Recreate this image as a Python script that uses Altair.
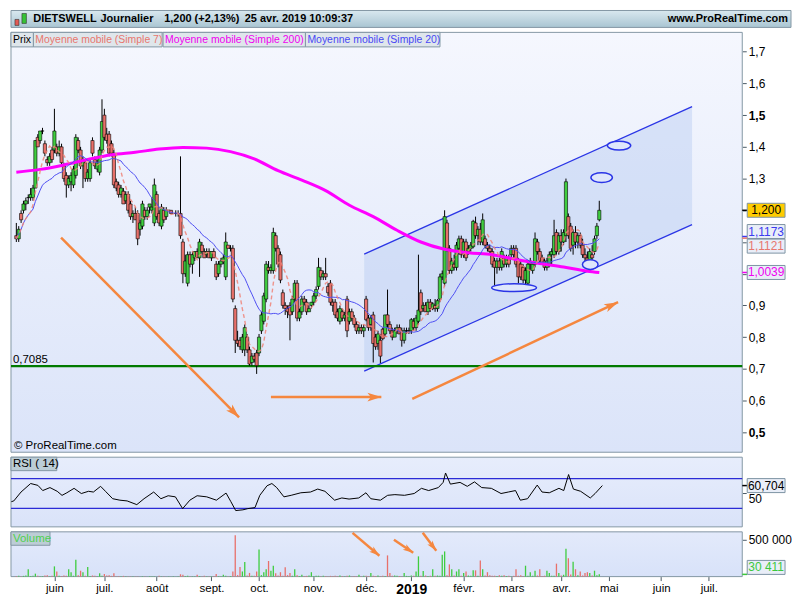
import altair as alt
import pandas as pd

# ---------------- data ----------------
OPEN = [
    1.12, 1.11, 1.19, 1.20, 1.22, 1.24, 1.24, 1.24, 1.27, 1.43,
    1.42, 1.45, 1.41, 1.36, 1.35, 1.39, 1.39, 1.40, 1.38, 1.40,
    1.34, 1.31, 1.28, 1.29, 1.28, 1.31, 1.42, 1.39, 1.34, 1.35,
    1.30, 1.30, 1.42, 1.36, 1.33, 1.32, 1.39, 1.50, 1.44, 1.44,
    1.41, 1.38, 1.29, 1.28, 1.25, 1.26, 1.23, 1.25, 1.22, 1.18,
    1.19, 1.19, 1.14, 1.15, 1.20, 1.18, 1.21, 1.20, 1.16, 1.25,
    1.19, 1.15, 1.20, 1.18, 1.20, 1.20, 1.19, 1.19, 1.19, 1.19,
    1.10, 1.00, 0.97, 1.06, 1.03, 1.05, 1.07, 1.05, 1.09, 1.07,
    1.06, 1.07, 1.05, 1.07, 1.03, 1.00, 1.03, 1.04, 0.99, 1.09,
    1.08, 1.08, 0.89, 0.79, 0.79, 0.76, 0.76, 0.80, 0.76, 0.72,
    0.74, 0.75, 0.75, 0.82, 0.85, 0.92, 1.02, 1.01, 1.01, 1.12,
    1.08, 1.06, 0.94, 0.90, 0.89, 0.90, 0.88, 0.92, 0.97, 0.86,
    0.88, 0.92, 0.91, 0.88, 0.90, 0.91, 0.93, 0.96, 1.01, 0.99,
    1.00, 0.96, 0.97, 0.91, 0.91, 0.88, 0.85, 0.88, 0.86, 0.92,
    0.85, 0.88, 0.86, 0.84, 0.82, 0.83, 0.82, 0.92, 0.86, 0.84,
    0.87, 0.80, 0.78, 0.79, 0.825, 0.81, 0.87, 0.84, 0.82, 0.80,
    0.82, 0.83, 0.82, 0.79, 0.82, 0.82, 0.82, 0.85, 0.83, 0.85,
    0.94, 0.89, 0.90, 0.88, 0.91, 0.89, 0.90, 0.89, 0.92, 0.99,
    0.97, 1.16, 1.08, 1.01, 1.03, 1.02, 1.08, 1.11, 1.06, 1.10,
    1.07, 1.08, 1.085, 1.16, 1.12, 1.14, 1.10, 1.11, 1.09, 1.08,
    1.07, 1.04, 1.02, 1.04, 1.02, 1.05, 1.03, 1.05, 1.06, 1.08,
    1.08, 1.04, 1.03, 1.02, 0.98, 0.97, 1.03, 1.01, 1.03, 1.10,
    1.07, 1.05, 1.04, 1.02, 1.03, 1.06, 1.06, 1.13, 1.07, 1.12,
    1.10, 1.12, 1.18, 1.15, 1.09, 1.13, 1.10, 1.12, 1.09, 1.06,
    1.05, 1.04, 1.06, 1.07, 1.12, 1.17,
]
HIGH = [
    1.16, 1.15, 1.20, 1.23, 1.24, 1.25, 1.27, 1.28, 1.42, 1.44,
    1.45, 1.46, 1.42, 1.37, 1.38, 1.40, 1.52, 1.41, 1.42, 1.41,
    1.35, 1.32, 1.31, 1.32, 1.34, 1.44, 1.43, 1.40, 1.37, 1.36,
    1.33, 1.36, 1.43, 1.37, 1.36, 1.40, 1.55, 1.52, 1.46, 1.45,
    1.42, 1.39, 1.30, 1.29, 1.28, 1.27, 1.26, 1.26, 1.23, 1.20,
    1.21, 1.20, 1.17, 1.23, 1.21, 1.21, 1.22, 1.24, 1.30, 1.26,
    1.20, 1.22, 1.21, 1.21, 1.20, 1.20, 1.19, 1.20, 1.20, 1.37,
    1.11, 1.06, 1.07, 1.07, 1.07, 1.07, 1.08, 1.11, 1.10, 1.08,
    1.08, 1.08, 1.07, 1.08, 1.04, 1.04, 1.05, 1.06, 1.13, 1.09,
    1.09, 1.09, 0.90, 0.82, 0.80, 0.81, 0.84, 0.81, 0.77, 0.75,
    0.75, 0.76, 0.81, 0.88, 0.94, 1.04, 1.04, 1.03, 1.145, 1.13,
    1.09, 1.07, 0.95, 0.91, 0.90, 0.91, 0.93, 0.98, 0.98, 0.89,
    0.93, 0.93, 0.92, 0.90, 0.91, 0.94, 0.96, 1.05, 1.02, 1.01,
    1.05, 0.97, 0.98, 0.92, 0.92, 0.89, 0.90, 0.89, 0.88, 0.93,
    0.89, 0.89, 0.87, 0.85, 0.84, 0.84, 0.84, 0.93, 0.87, 0.87,
    0.88, 0.81, 0.82, 0.81, 0.83, 0.87, 0.95, 0.85, 0.83, 0.83,
    0.84, 0.84, 0.83, 0.83, 0.83, 0.83, 0.86, 0.86, 0.87, 1.06,
    0.95, 0.91, 0.91, 0.92, 0.92, 0.91, 0.92, 0.92, 1.00, 1.01,
    1.20, 1.17, 1.09, 1.05, 1.06, 1.10, 1.12, 1.12, 1.11, 1.11,
    1.09, 1.10, 1.17, 1.18, 1.15, 1.16, 1.19, 1.12, 1.10, 1.09,
    1.08, 1.05, 1.05, 1.05, 1.08, 1.06, 1.06, 1.06, 1.09, 1.09,
    1.09, 1.05, 1.04, 1.03, 1.02, 1.04, 1.05, 1.04, 1.13, 1.11,
    1.08, 1.06, 1.05, 1.05, 1.07, 1.08, 1.17, 1.14, 1.13, 1.14,
    1.14, 1.30, 1.19, 1.16, 1.14, 1.15, 1.13, 1.13, 1.11, 1.08,
    1.07, 1.08, 1.09, 1.12, 1.16, 1.23,
]
LOW = [
    1.10, 1.10, 1.16, 1.19, 1.20, 1.22, 1.23, 1.23, 1.27, 1.40,
    1.41, 1.44, 1.37, 1.34, 1.34, 1.35, 1.38, 1.37, 1.37, 1.34,
    1.29, 1.24, 1.27, 1.26, 1.27, 1.30, 1.38, 1.33, 1.27, 1.29,
    1.29, 1.29, 1.37, 1.33, 1.32, 1.31, 1.38, 1.42, 1.41, 1.37,
    1.37, 1.27, 1.26, 1.24, 1.24, 1.22, 1.22, 1.19, 1.17, 1.16,
    1.17, 1.09, 1.12, 1.14, 1.17, 1.17, 1.19, 1.19, 1.15, 1.17,
    1.15, 1.14, 1.16, 1.17, 1.20, 1.19, 1.19, 1.18, 1.18, 1.11,
    0.97, 0.99, 0.96, 1.02, 1.00, 1.04, 1.05, 0.99, 1.06, 1.05,
    1.05, 1.05, 1.04, 1.05, 0.98, 0.99, 1.02, 1.03, 0.98, 1.08,
    1.07, 0.91, 0.75, 0.77, 0.76, 0.75, 0.74, 0.75, 0.71, 0.71,
    0.72, 0.684, 0.74, 0.81, 0.84, 0.91, 1.00, 1.00, 1.00, 1.07,
    1.02, 0.97, 0.89, 0.87, 0.86, 0.79, 0.87, 0.91, 0.85, 0.85,
    0.87, 0.90, 0.87, 0.88, 0.89, 0.90, 0.92, 0.95, 0.98, 0.98,
    0.98, 0.93, 0.90, 0.88, 0.86, 0.85, 0.84, 0.85, 0.85, 0.80,
    0.84, 0.85, 0.83, 0.81, 0.81, 0.81, 0.80, 0.85, 0.82, 0.82,
    0.72, 0.76, 0.76, 0.718, 0.79, 0.80, 0.83, 0.81, 0.79, 0.80,
    0.81, 0.81, 0.77, 0.78, 0.81, 0.81, 0.81, 0.82, 0.82, 0.84,
    0.87, 0.88, 0.88, 0.87, 0.88, 0.885, 0.88, 0.88, 0.91, 0.98,
    0.96, 1.07, 1.00, 1.00, 1.01, 1.01, 1.06, 1.05, 1.05, 1.04,
    1.06, 1.07, 1.08, 1.11, 1.09, 1.09, 1.09, 1.08, 1.07, 1.06,
    1.02, 0.95, 1.00, 1.01, 1.01, 1.02, 1.02, 1.02, 1.05, 1.05,
    1.02, 0.97, 0.98, 0.97, 0.95, 0.96, 1.01, 1.00, 1.02, 1.06,
    1.03, 1.03, 1.01, 1.01, 1.02, 1.03, 1.05, 1.06, 1.06, 1.07,
    1.09, 1.10, 1.11, 1.07, 1.06, 1.08, 1.08, 1.08, 1.05, 1.04,
    1.02, 1.03, 1.04, 1.06, 1.11, 1.165,
]
CLOSE = [
    1.11, 1.14, 1.17, 1.22, 1.23, 1.24, 1.25, 1.27, 1.42, 1.40,
    1.45, 1.45, 1.38, 1.35, 1.37, 1.36, 1.45, 1.38, 1.40, 1.35,
    1.30, 1.28, 1.30, 1.31, 1.33, 1.43, 1.39, 1.34, 1.36, 1.30,
    1.32, 1.35, 1.38, 1.34, 1.35, 1.39, 1.48, 1.43, 1.42, 1.38,
    1.38, 1.28, 1.27, 1.25, 1.27, 1.22, 1.25, 1.20, 1.18, 1.19,
    1.17, 1.11, 1.16, 1.22, 1.18, 1.20, 1.22, 1.21, 1.28, 1.18,
    1.16, 1.21, 1.17, 1.20, 1.20, 1.19, 1.19, 1.19, 1.19, 1.12,
    1.00, 1.04, 1.06, 1.03, 1.06, 1.07, 1.05, 1.10, 1.07, 1.05,
    1.07, 1.05, 1.07, 1.05, 0.99, 1.03, 1.04, 1.05, 1.10, 1.08,
    1.08, 0.92, 0.79, 0.78, 0.77, 0.80, 0.83, 0.76, 0.715, 0.74,
    0.73, 0.71, 0.80, 0.87, 0.93, 1.03, 1.01, 1.02, 1.13, 1.08,
    1.03, 0.98, 0.90, 0.89, 0.88, 0.87, 0.92, 0.97, 0.86, 0.88,
    0.92, 0.91, 0.88, 0.89, 0.91, 0.93, 0.95, 1.02, 0.99, 1.00,
    0.99, 0.94, 0.91, 0.90, 0.87, 0.86, 0.89, 0.86, 0.87, 0.82,
    0.88, 0.86, 0.84, 0.82, 0.83, 0.82, 0.83, 0.855, 0.83, 0.86,
    0.78, 0.77, 0.81, 0.74, 0.795, 0.87, 0.84, 0.82, 0.80, 0.82,
    0.83, 0.81, 0.79, 0.82, 0.82, 0.82, 0.855, 0.83, 0.86, 0.885,
    0.88, 0.90, 0.88, 0.91, 0.89, 0.905, 0.89, 0.915, 0.99, 1.00,
    1.18, 1.08, 1.01, 1.04, 1.02, 1.09, 1.11, 1.06, 1.10, 1.05,
    1.08, 1.09, 1.165, 1.12, 1.14, 1.10, 1.17, 1.09, 1.08, 1.07,
    1.03, 1.02, 1.04, 1.02, 1.07, 1.03, 1.05, 1.03, 1.08, 1.06,
    1.03, 0.99, 0.99, 0.98, 1.01, 1.03, 1.04, 1.03, 1.11, 1.07,
    1.04, 1.03, 1.02, 1.04, 1.06, 1.07, 1.12, 1.07, 1.12, 1.10,
    1.13, 1.29, 1.12, 1.08, 1.13, 1.10, 1.12, 1.09, 1.06, 1.05,
    1.04, 1.07, 1.05, 1.11, 1.15, 1.20,
]
VOLUME_K = [
    8, 12, 6, 10, 15, 99, 8, 12, 40, 10,
    6, 8, 15, 20, 5, 10, 139, 68, 12, 8,
    15, 10, 99, 60, 12, 230, 18, 80, 60, 10,
    131, 8, 15, 10, 6, 45, 10, 35, 15, 20,
    10, 45, 6, 8, 5, 10, 4, 6, 3, 5,
    4, 6, 3, 5, 4, 3, 5, 4, 6, 3,
    10, 3, 4, 2, 3, 2, 4, 3, 5, 32,
    25, 8, 10, 6, 4, 5, 25, 8, 5, 10,
    4, 6, 5, 8, 35, 6, 5, 25, 12, 6,
    8, 68, 560, 20, 130, 70, 200, 15, 50, 12,
    10, 68, 369, 20, 60, 100, 212, 80, 149, 45,
    15, 60, 10, 126, 20, 50, 12, 100, 20, 8,
    25, 8, 10, 15, 60, 8, 10, 12, 6, 10,
    8, 6, 10, 8, 12, 6, 15, 8, 5, 10,
    15, 6, 8, 5, 25, 6, 10, 12, 8, 50,
    10, 8, 15, 6, 10, 8, 288, 50, 12, 15,
    10, 8, 6, 50, 10, 8, 15, 12, 70, 275,
    10, 75, 15, 8, 12, 100, 10, 15, 12, 296,
    342, 20, 166, 100, 15, 70, 100, 12, 50, 70,
    15, 10, 85, 85, 12, 220, 100, 15, 60, 20,
    10, 12, 8, 20, 10, 20, 8, 12, 6, 10,
    100, 12, 20, 8, 148, 10, 60, 12, 80, 15,
    100, 8, 12, 80, 50, 10, 12, 176, 50, 15,
    25, 378, 248, 30, 203, 100, 20, 70, 15, 50,
    60, 50, 15, 80, 20, 30.411,
]
RSI_I = [0, 1, 4, 8, 11, 13, 16, 19, 21, 23, 26, 29, 32, 34, 37, 39, 42, 45, 48, 52,
         55, 59, 62, 65, 68, 71, 74, 77, 81, 85, 89, 91, 93, 96, 98, 101, 103, 106, 108, 110,
         113, 116, 120, 124, 127, 130, 134, 137, 140, 144, 147, 149, 153, 156, 159, 163, 167, 170, 173, 177,
         179, 180, 182, 186, 189, 192, 195, 199, 203, 206, 209, 211, 214, 218, 220, 223, 227, 229, 231, 233,
         236, 240, 242, 245]
RSI_V = [39, 40, 52, 63.5, 61, 54, 58, 53, 47.5, 51, 57, 50, 53, 52, 59.7, 53, 43, 41, 40, 35,
         43, 52, 43, 47, 45.5, 29.6, 41, 47, 45.5, 41, 50.6, 39, 27, 28, 29.6, 31, 47.6, 60.5, 63.5, 58,
         45.5, 47.6, 51, 52, 56, 53, 41, 44, 42.5, 44, 51, 43, 41, 47.6, 48.5, 47.6, 50, 57, 54, 58,
         65, 77.7, 62.7, 65, 59.7, 65.7, 58, 57, 50, 52, 54, 41, 43, 61.4, 52, 51, 57, 54, 75.6, 56,
         53, 44, 50, 60.704]
SMA200_I = [0, 10, 20, 30, 40, 50, 60, 70, 80, 90, 100, 110, 120, 130, 140, 150, 160, 170,
            180, 190, 200, 210, 220, 230, 240, 245]
SMA200_V = [1.320, 1.329, 1.343, 1.360, 1.375, 1.383, 1.393, 1.398, 1.396, 1.385, 1.362, 1.325,
            1.295, 1.262, 1.216, 1.180, 1.137, 1.100, 1.077, 1.066, 1.060, 1.045, 1.032, 1.021,
            1.008, 1.0039]
MONTH_IDX = [16, 37, 59, 82, 102, 125, 147, 166, 188, 208, 229, 249, 271, 291]
MONTH_LBL = ["juin", "juil.", "août", "sept.", "oct.", "nov.", "déc.", "2019",
             "févr.", "mars", "avr.", "mai", "juin", "juil."]
PRICE_TICKS = [0.5, 0.6, 0.7, 0.8, 0.9, 1.0, 1.1, 1.2, 1.3, 1.4, 1.5, 1.6, 1.7]
PRICE_HIDDEN = [1.0, 1.1, 1.2]
SUPPORT = 0.7085
CHANNEL_I = [146.2, 284.0]
CHANNEL_UP = [1.062, 1.527]
CHANNEL_LO = [0.693, 1.155]
ELL_I = [209.2, 241.2, 246.0, 253.3]
ELL_P = [0.956, 1.029, 1.303, 1.404]
ELL_RX = [23, 8, 11, 12]
ELL_RY = [4, 5, 5, 4.5]
ARR_I1 = [18.8, 107.0, 166.4]
ARR_P1 = [1.114, 0.611, 0.605]
ARR_I2 = [93.6, 153.4, 252.9]
ARR_P2 = [0.547, 0.611, 0.910]
ARR_ANG = [45, 0, 335]
VARR_I1 = [141.3, 158.7, 170.8]
VARR_V1 = [594000, 500000, 594000]
VARR_I2 = [152.6, 166.8, 176.5]
VARR_V2 = [284000, 324000, 351000]
VARR_ANG = [39, 33, 52]
LAST_PRICE = 1.200
LAST_SMA20 = 1.1173
LAST_SMA7 = 1.1121
LAST_SMA200 = 1.0039
LAST_RSI = 60.704
LAST_VOL = 30411

# ---------------- layout / style ----------------
FONT = "Liberation Sans"
GREEN = "#3fcd3f"
RED = "#e8706a"
ORANGE = "#f5873f"
CH_BLUE = "#2a35e6"
BORDER = "#8497a4"
W = 735
HW = 784
H_HEAD = 17
H_PRICE = 422
H_RSI = 70
H_VOL = 45
SX = W / 750.0
SY = H_PRICE / 434.0
X_DOMAIN = [-0.16, 303.0]

one = pd.DataFrame({"k": [0]})


def grad(c0, c1):
    return alt.LinearGradient(gradient="linear",
                              stops=[alt.GradientStop(offset=0, color=c0),
                                     alt.GradientStop(offset=1, color=c1)],
                              x1=0, x2=0, y1=0, y2=1)


def rect_px(x0, x1, y0, y1, fill, stroke=None, sw=1.0):
    kw = dict(fill=fill)
    if stroke:
        kw.update(stroke=stroke, strokeWidth=sw)
    return alt.Chart(one).mark_rect(**kw).encode(
        x=alt.value(x0), x2=alt.value(x1), y=alt.value(y0), y2=alt.value(y1))


def text_px(x, y, s, color="black", size=11, weight="normal", align="left"):
    return alt.Chart(one).mark_text(text=s, color=color, font=FONT, fontSize=size,
                                    fontWeight=weight, align=align, baseline="middle").encode(
        x=alt.value(x), y=alt.value(y))


BOX_PATH = "M -1 -0.37 L 1 -0.37 L 1 0.37 L -1 0.37 Z"


def value_box(value, text, tcolor, fill, yoff, yenc, tickc):
    d = pd.DataFrame({"v": [value]})
    base = alt.Chart(d)
    tick = base.mark_rule(color=tickc, strokeWidth=1.5).encode(
        x=alt.value(W), x2=alt.value(W + 5), y=yenc("v"))
    box = base.mark_point(shape=BOX_PATH, size=1444, filled=True, fill=fill, stroke="#7d93a3",
                          strokeWidth=1, opacity=1, yOffset=yoff).encode(
        x=alt.value(W + 24), y=yenc("v"))
    txt = base.mark_text(text=text, color=tcolor, font=FONT, fontSize=12, align="center",
                         baseline="middle", dy=yoff).encode(x=alt.value(W + 24), y=yenc("v"))
    return [tick, box, txt]


xs = alt.Scale(domain=X_DOMAIN, nice=False, zero=False)


def XP(f):
    return alt.X(f"{f}:Q", scale=xs, axis=None)


# ---------------- header ----------------
header = alt.layer(
    rect_px(0, HW, 0, H_HEAD, grad("#d9e8ef", "#a9c5d2"), BORDER),
    rect_px(4, 8, 9, 15, "#e25b55", "#333333", 0.6),
    rect_px(11, 15.5, 3, 13, "#36c236", "#333333", 0.6),
    text_px(22.5, 9, "DIETSWELL", size=11, weight="bold"),
    text_px(90, 9, "Journalier", size=11, weight="bold"),
    text_px(154, 9, "1,200 (+2,13%)", size=11, weight="bold"),
    text_px(235, 9, "25 avr. 2019 10:09:37", size=11, weight="bold"),
    text_px(781, 9, "www.ProRealTime.com", size=11, weight="bold", align="right"),
).properties(width=HW, height=H_HEAD)

# ---------------- price panel ----------------
ps = alt.Scale(domain=[0.437, 1.761], nice=False, zero=False)
hidden_test = " || ".join(f"abs(datum.value - {h}) < 0.001" for h in PRICE_HIDDEN)
PRICE_AXIS = alt.Axis(
    orient="right", values=PRICE_TICKS, title=None, grid=False, domain=False,
    labelExpr=f"({hidden_test}) ? '' : replace(format(datum.value, '.1f'), '.', ',')",
    tickSize=4, tickColor="#4a5a66", labelColor="black", labelFont=FONT, labelFontSize=12,
    labelFontWeight={"condition": {"test": "abs(datum.value - 1.5) < 0.001 || abs(datum.value - 0.5) < 0.001",
                                   "value": "bold"}, "value": "normal"},
    labelPadding=2, labelOverlap=False)


def YP(f):
    return alt.Y(f"{f}:Q", scale=ps, axis=PRICE_AXIS)


df = pd.DataFrame({"i": list(range(len(CLOSE))), "open": OPEN, "high": HIGH, "low": LOW,
                   "close": CLOSE, "volume": [v * 1000 for v in VOLUME_K]})
updown = alt.condition("datum.close >= datum.open", alt.value(GREEN), alt.value(RED))

chan = pd.DataFrame({"i": CHANNEL_I, "up": CHANNEL_UP, "lo": CHANNEL_LO})
chan_lines = pd.DataFrame({"x1": [CHANNEL_I[0], CHANNEL_I[0]], "x2": [CHANNEL_I[1], CHANNEL_I[1]],
                           "y1": [CHANNEL_UP[0], CHANNEL_LO[0]], "y2": [CHANNEL_UP[1], CHANNEL_LO[1]]})
sma200 = pd.DataFrame({"i": SMA200_I, "v": SMA200_V})
ell = pd.DataFrame({"i": ELL_I, "p": ELL_P, "rx": ELL_RX, "ry": ELL_RY})
ell["path"] = [f"M -1 0 A 1 {ry / rx:.3f} 0 1 0 1 0 A 1 {ry / rx:.3f} 0 1 0 -1 0 Z"
               for rx, ry in zip(ell.rx, ell.ry)]
ell["size"] = [(2 * rx * SX) ** 2 for rx in ell.rx]
arr = pd.DataFrame({"x1": ARR_I1, "y1": ARR_P1, "x2": ARR_I2, "y2": ARR_P2, "ang": ARR_ANG})
ARROW_PATH = "M 0 0 L -2 -0.62 L -1.5 0 L -2 0.62 Z"

ma = alt.Chart(df).transform_window(
    sma7="mean(close)", frame=[-6, 0], sort=[alt.SortField(field="i", order="ascending")]
).transform_window(
    sma20="mean(close)", frame=[-19, 0], sort=[alt.SortField(field="i", order="ascending")])

tab_h = 15 * SY
price_layers = [
    rect_px(0, W, 0, H_PRICE, grad("#f5f7fe", "#dbe4f9"), BORDER),
    alt.Chart(chan).mark_area(color="#b9cbf1", opacity=0.45).encode(x=XP("i"), y=YP("up"), y2="lo"),
    alt.Chart(chan_lines).mark_rule(color=CH_BLUE, strokeWidth=1.3).encode(
        x=XP("x1"), x2="x2", y=YP("y1"), y2="y2"),
    alt.Chart(pd.DataFrame({"v": [SUPPORT]})).mark_rule(color="#007a00", strokeWidth=2.2).encode(y=YP("v")),
    alt.Chart(df).mark_rule(color="black", strokeWidth=1).encode(x=XP("i"), y=YP("low"), y2="high"),
    alt.Chart(df).mark_bar(width=3.2, stroke="black", strokeWidth=0.6).encode(
        x=XP("i"), y=YP("open"), y2="close", color=updown),
    alt.Chart(sma200).mark_line(color="#ff00ff", strokeWidth=3, interpolate="monotone").encode(
        x=XP("i"), y=YP("v")),
    ma.mark_line(color="#4f4ff2", strokeWidth=1).encode(x=XP("i"), y=YP("sma20")),
    ma.mark_line(color="#f08478", strokeWidth=1.4, strokeDash=[4, 3], opacity=0.85).encode(
        x=XP("i"), y=YP("sma7")),
    alt.Chart(ell).mark_point(filled=True, fill="#dfe7fb", stroke=CH_BLUE, strokeWidth=1.5,
                              opacity=1).encode(
        x=XP("i"), y=YP("p"), shape=alt.Shape("path:N", scale=None), size=alt.Size("size:Q", scale=None)),
    alt.Chart(arr).mark_rule(color=ORANGE, strokeWidth=2.5).encode(
        x=XP("x1"), x2="x2", y=YP("y1"), y2="y2"),
    alt.Chart(arr).mark_point(shape=ARROW_PATH, filled=True, color=ORANGE, size=196, opacity=1).encode(
        x=XP("x2"), y=YP("y2"), angle=alt.Angle("ang:Q", scale=None)),
    alt.Chart(pd.DataFrame({"v": [SUPPORT]})).mark_text(
        text="0,7085", font=FONT, fontSize=11.5, color="black", align="left", baseline="bottom", dy=-1).encode(
        x=alt.value(2), y=YP("v")),
    text_px(3, (448 - 20) * SY, "© ProRealTime.com", size=11.5),
    rect_px(0, 23 * SX, 0, tab_h, "#dfe6eb", BORDER),
    rect_px(23 * SX, 155 * SX, 0, tab_h, "#dfe6eb", BORDER),
    rect_px(156 * SX, 302 * SX, 0, tab_h, "#dfe6eb", BORDER),
    rect_px(302 * SX, 440 * SX, 0, tab_h, "#dfe6eb", BORDER),
    text_px(2, tab_h / 2, "Prix", size=10.5),
    text_px(25 * SX, tab_h / 2, "Moyenne mobile (Simple 7)", color="#e8766e", size=10.5),
    text_px(158 * SX, tab_h / 2, "Moyenne mobile (Simple 200)", color="#f000f0", size=10.5),
    text_px(304 * SX, tab_h / 2, "Moyenne mobile (Simple 20)", color="#4848f5", size=10.5),
]
price_layers += value_box(LAST_PRICE, f"{LAST_PRICE:.3f}".replace(".", ","), "black", "#ffcc00", 0, YP, "black")
price_layers += value_box(LAST_SMA20, f"{LAST_SMA20:.4f}".replace(".", ","), "#3b3bf0", "#e9eef8", -5, YP, "#3b3bf0")
price_layers += value_box(LAST_SMA7, f"{LAST_SMA7:.4f}".replace(".", ","), "#e8766e", "#e9eef8", 8, YP, "#e8766e")
price_layers += value_box(LAST_SMA200, f"{LAST_SMA200:.4f}".replace(".", ","), "#f000f0", "#e9eef8", 0, YP, "#f000f0")
price = alt.layer(*price_layers).properties(width=W, height=H_PRICE)

# ---------------- RSI panel ----------------
rs = alt.Scale(domain=[5, 99], nice=False, zero=False)
RSI_AXIS = alt.Axis(orient="right", values=[50], title=None, grid=False, domain=False, tickSize=4,
                    tickColor="#4a5a66", labelColor="black", labelFont=FONT, labelFontSize=12,
                    labelPadding=2, labelBaseline="top")


def YR(f):
    return alt.Y(f"{f}:Q", scale=rs, axis=RSI_AXIS)


rsi_df = pd.DataFrame({"i": RSI_I, "v": RSI_V})
rsi_layers = [
    rect_px(0, W, 0, H_RSI, grad("#e7edfc", "#dae3f9"), BORDER),
    alt.Chart(pd.DataFrame({"v": [30, 70]})).mark_rule(color="#2b2bd6", strokeWidth=1.3).encode(y=YR("v")),
    alt.Chart(rsi_df).mark_line(color="black", strokeWidth=1).encode(x=XP("i"), y=YR("v")),
    rect_px(0, 47 * SX, 0, 13.5, "#bccdd6", BORDER),
    text_px(2, 7, "RSI ( 14)", size=11.5),
]
rsi_layers += value_box(LAST_RSI, f"{LAST_RSI:.3f}".replace(".", ","), "black", "#e9eef8", 0, YR, "black")
rsi = alt.layer(*rsi_layers).properties(width=W, height=H_RSI)

# ---------------- volume panel ----------------
vs = alt.Scale(domain=[0, 608000], nice=False, zero=True)
VOL_AXIS = alt.Axis(orient="right", values=[500000], labelExpr="'500 000'", title=None, grid=False,
                    domain=False, tickSize=4, tickColor="#4a5a66", labelColor="black", labelFont=FONT,
                    labelFontSize=12, labelPadding=2)
month_expr = " : ".join(f"datum.value == {v} ? '{l}'" for v, l in zip(MONTH_IDX, MONTH_LBL)) + " : ''"
X_AXIS = alt.Axis(values=MONTH_IDX, labelExpr=month_expr, title=None, grid=False, domain=False,
                  tickSize=4, tickColor="#4a5a66", labelColor="black", labelFont=FONT,
                  labelFontSize={"condition": {"test": "datum.value == 166", "value": 14}, "value": 11.5},
                  labelFontWeight={"condition": {"test": "datum.value == 166", "value": "bold"}, "value": "normal"},
                  labelPadding=2, labelOverlap=False)


def XV(f):
    return alt.X(f"{f}:Q", scale=xs, axis=X_AXIS)


def YV(f):
    return alt.Y(f"{f}:Q", scale=vs, axis=VOL_AXIS)


varr = pd.DataFrame({"x1": VARR_I1, "y1": VARR_V1, "x2": VARR_I2, "y2": VARR_V2, "ang": VARR_ANG})
vol_layers = [
    rect_px(0, W, 0, H_VOL, grad("#e3eafb", "#d8e2f9"), BORDER),
    alt.Chart(df).mark_bar(width=1.3).encode(x=XV("i"), y=YV("volume"), color=updown),
    alt.Chart(varr).mark_rule(color=ORANGE, strokeWidth=2.5).encode(x=XV("x1"), x2="x2", y=YV("y1"), y2="y2"),
    alt.Chart(varr).mark_point(shape=ARROW_PATH, filled=True, color=ORANGE, size=110, opacity=1).encode(
        x=XV("x2"), y=YV("y2"), angle=alt.Angle("ang:Q", scale=None)),
    rect_px(0, 40 * SX, 0, 13.5, "#bccdd6", BORDER),
    text_px(2, 7, "Volume", color="#4fd04f", size=11.5),
]
vol_layers += value_box(LAST_VOL, "30 411", "#3cc83c", "#e9eef8", -7, YV, "#3cc83c")
vol = alt.layer(*vol_layers).properties(width=W, height=H_VOL)

chart = alt.vconcat(header, price, rsi, vol, spacing=3).properties(
    padding=0, background="white").configure_view(stroke="transparent")

chart.save("out.html", embed_options={"renderer": "svg", "actions": False})
